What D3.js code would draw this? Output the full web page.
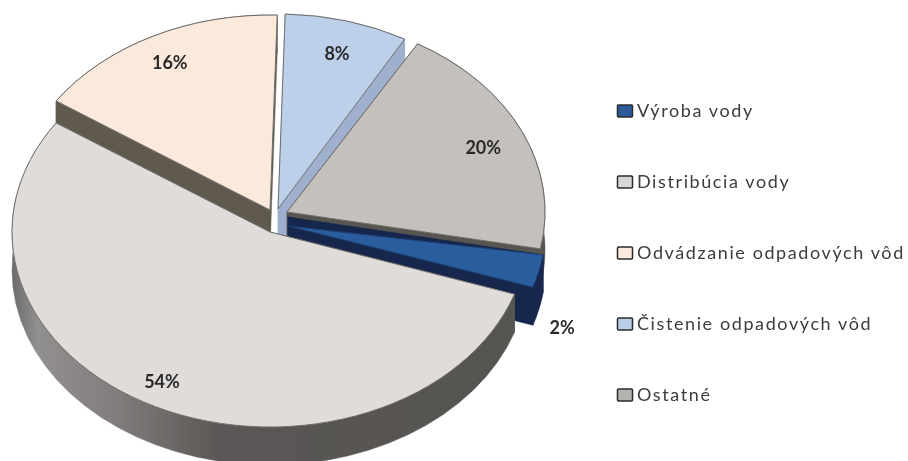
<!DOCTYPE html>
<html>
<head>
<meta charset="utf-8">
<script src="https://cdn.jsdelivr.net/npm/d3@7"></script>
<style>
  html, body { margin: 0; padding: 0; background: #fff; }
  svg { display: block; }
  text { font-family: Lato, "Open Sans", sans-serif; }
</style>
</head>
<body>
<div id="chart"></div>
<script>
const categories = ["Výroba vody", "Distribúcia vody", "Odvádzanie odpadových vôd", "Čistenie odpadových vôd", "Ostatné"];
const shares = [2, 54, 16, 8, 20];
const shareLabels = ["2%", "54%", "16%", "8%", "20%"];

// styles, same order as the categories
const topColors = ["#2c5d9e", "#dfdcda", "#fbe9dc", "#bdd0ea", "#c4c1bd"];
const wallColors = ["#14274e", "url(#bigWall)", "#5f5a4e", "#9fb0cf", "#57544f"];
const rimColors = ["#1d3f72", "#6f6d6a", "#6f6d6a", "#6f6d6a", "#6f6d6a"];
const swatchColors = ["#2a5a9a", "#d9d7d5", "#fbe9dc", "#b9cde8", "#b5b3b0"];

// exploded slice centres
const offsetX = [288, 270, 270, 278, 287];
const offsetY = [226, 232, 210, 209, 212];
// the source is a perspective view, so edges sit a little off the true angles (degrees)
const startNudge = [-3.9, -1, 0, 0, 0];
const endNudge = [-1.3, 0, 0, -1, -1.5];
const wallLift = [9, 0, 0, 0, 0];
const labelRadius = [1.105, 0.86, 0.85, 0.83, 0.83];
const labelShiftX = [0, -8, 0, 0, 0];
const labelShiftY = [42, 0, 0, 0, 0];
const drawOrder = [2, 3, 4, 0, 1];

const width = 908, height = 461;
const rx = 258, ry = 195, depth = 38;
const startDeg = 102.4;
const toRad = Math.PI / 180;

const svg = d3.select("#chart").append("svg")
  .attr("width", width)
  .attr("height", height);

const defs = svg.append("defs");
defs.append("filter").attr("id", "soft")
  .append("feGaussianBlur").attr("stdDeviation", 0.45);
defs.append("filter").attr("id", "softText")
  .append("feGaussianBlur").attr("stdDeviation", 0.3);

const wallGrad = defs.append("linearGradient")
  .attr("id", "bigWall")
  .attr("gradientUnits", "userSpaceOnUse")
  .attr("x1", 12).attr("x2", 528).attr("y1", 0).attr("y2", 0);
[[0, "#6c6a6a"], [0.05, "#928f8f"], [0.2, "#817d7c"], [0.4, "#5b5756"], [1, "#55544f"]]
  .forEach(([o, c]) => wallGrad.append("stop").attr("offset", o).attr("stop-color", c));

const pieGen = d3.pie().sort(null)
  .startAngle(startDeg * toRad)
  .endAngle(startDeg * toRad + 2 * Math.PI);
const slices = pieGen(shares).map((s, i) => ({
  ...s,
  drawStart: s.startAngle + startNudge[i] * toRad,
  drawEnd: s.endAngle + endNudge[i] * toRad
}));

const arcGen = d3.arc().innerRadius(0).outerRadius(rx);
const lineGen = d3.line();

const px = (i, a, k = 1) => offsetX[i] + k * rx * Math.sin(a);
const py = (i, a, k = 1) => offsetY[i] - k * ry * Math.cos(a);

function wallPaths(i) {
  const s = slices[i];
  const steps = d3.range(0, 41).map(t => s.drawStart + (s.drawEnd - s.drawStart) * t / 40);
  const rim = steps.map(a => [px(i, a), py(i, a)]);
  const rimLow = rim.map(([x, y]) => [x, y + depth]).reverse();
  const apex = [offsetX[i], offsetY[i] - wallLift[i]];
  const apexLow = [offsetX[i], offsetY[i] + depth];
  const first = rim[0], last = rim[rim.length - 1];
  return [
    [apex, first, [first[0], first[1] + depth], apexLow],
    [apex, last, [last[0], last[1] + depth], apexLow],
    [...rim, ...rimLow]
  ].map(p => lineGen(p) + "Z");
}

const pieG = svg.append("g").attr("filter", "url(#soft)");

drawOrder.forEach(i => {
  const g = pieG.append("g");
  g.selectAll("path.wall")
    .data(wallPaths(i))
    .join("path")
    .attr("class", "wall")
    .attr("d", d => d)
    .attr("fill", wallColors[i])
    .attr("stroke", wallColors[i])
    .attr("stroke-width", 0.5);
  g.append("path")
    .attr("d", arcGen({ startAngle: slices[i].drawStart, endAngle: slices[i].drawEnd }))
    .attr("transform", `translate(${offsetX[i]},${offsetY[i]}) scale(1,${ry / rx})`)
    .attr("fill", topColors[i])
    .attr("stroke", rimColors[i])
    .attr("stroke-width", 1)
    .attr("vector-effect", "non-scaling-stroke");
});

// percentage labels
svg.append("g")
  .attr("filter", "url(#softText)")
  .selectAll("text")
  .data(slices)
  .join("text")
  .attr("x", (d, i) => px(i, (d.startAngle + d.endAngle) / 2, labelRadius[i]) + labelShiftX[i])
  .attr("y", (d, i) => py(i, (d.startAngle + d.endAngle) / 2, labelRadius[i]) + labelShiftY[i])
  .attr("dy", "0.35em")
  .attr("text-anchor", "middle")
  .attr("font-size", 18)
  .attr("font-weight", 700)
  .attr("fill", "#2a2a2a")
  .text((d, i) => shareLabels[i]);

// legend
const legendY = d3.scalePoint().domain(categories).range([111, 395]);
const legend = svg.append("g")
  .attr("filter", "url(#softText)")
  .selectAll("g")
  .data(categories)
  .join("g")
  .attr("transform", d => `translate(617,${legendY(d)})`);

legend.append("rect")
  .attr("x", 0.5).attr("y", -6)
  .attr("width", 15).attr("height", 12)
  .attr("rx", 1)
  .attr("fill", (d, i) => swatchColors[i])
  .attr("stroke", "#2b2b2b")
  .attr("stroke-width", 1.5);

legend.append("text")
  .attr("x", 20)
  .attr("dy", "0.35em")
  .attr("font-size", 18)
  .attr("letter-spacing", 1.6)
  .attr("fill", "#3c3c3c")
  .text(d => d);
</script>
</body>
</html>
